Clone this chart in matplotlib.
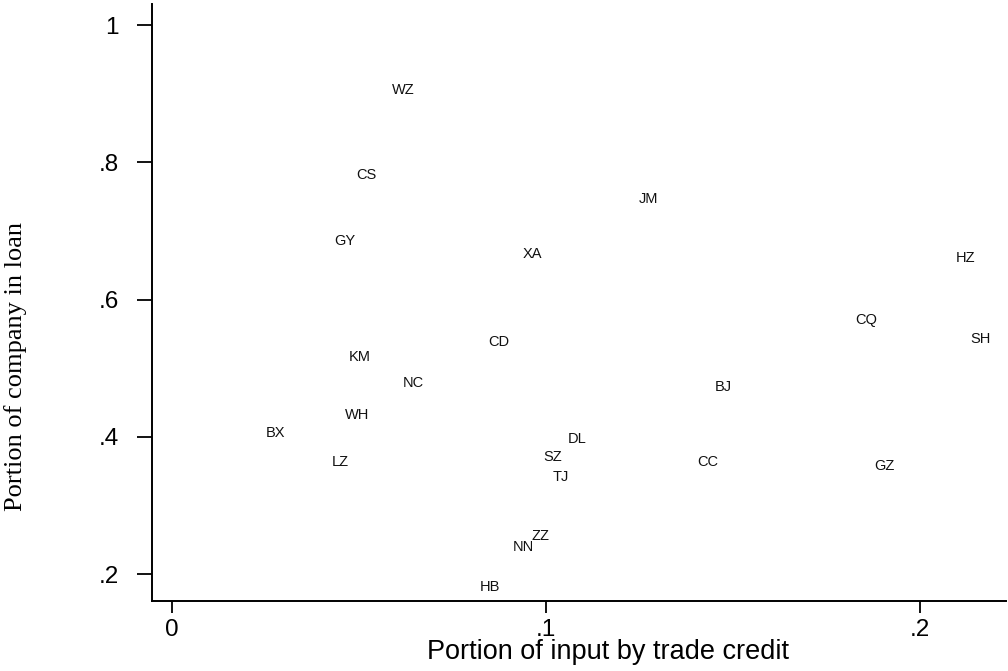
import matplotlib
matplotlib.use("Agg")
import matplotlib.pyplot as plt

# City codes with trade-credit share (x) and share of companies holding loans (y)
cities = ["WZ", "CS", "GY", "KM", "NC", "WH", "BX", "LZ", "JM", "XA", "CD", "BJ",
          "DL", "SZ", "TJ", "CC", "ZZ", "NN", "HB", "HZ", "CQ", "SH", "GZ"]
trade_credit = [0.0618, 0.0521, 0.0463, 0.0503, 0.0644, 0.0495, 0.0278, 0.0449,
                0.1275, 0.0965, 0.0874, 0.1473, 0.1083, 0.1019, 0.1040, 0.1433,
                0.0984, 0.0939, 0.0850, 0.2123, 0.1856, 0.2163, 0.1906]
loan_share = [0.908, 0.784, 0.687, 0.519, 0.480, 0.4345, 0.408, 0.365,
              0.749, 0.668, 0.541, 0.474, 0.3996, 0.372, 0.343, 0.366,
              0.258, 0.242, 0.184, 0.662, 0.573, 0.545, 0.359]

x_ticks = [0, 0.1, 0.2]
x_ticklabels = ["0", ".1", ".2"]
y_ticks = [0.2, 0.4, 0.6, 0.8, 1.0]
y_ticklabels = [".2", ".4", ".6", ".8", "1"]

sans = ["Liberation Sans", "DejaVu Sans"]
serif = ["Liberation Serif", "DejaVu Serif"]

fig = plt.figure(figsize=(10.08, 6.71), dpi=100)
ax = fig.add_axes([152 / 1008, 70 / 671, (1006 - 152) / 1008, 597 / 671])

for name, xv, yv in zip(cities, trade_credit, loan_share):
    ax.text(xv, yv, name, ha="center", va="center_baseline",
            fontsize=10.5, family=sans, color="#111111")

ax.set_xlim(-0.00535, 0.223)
ax.set_ylim(0.1607, 1.0306)

ax.set_xticks(x_ticks)
ax.set_xticklabels(x_ticklabels, family=sans, fontsize=17.5)
ax.set_yticks(y_ticks)
ax.set_yticklabels(y_ticklabels, family=sans, fontsize=17.5)

ax.tick_params(axis="x", length=8.6, width=1.3, pad=4)
ax.tick_params(axis="y", length=10.8, width=1.3, pad=13)

for side in ("top", "right"):
    ax.spines[side].set_visible(False)
for side in ("left", "bottom"):
    ax.spines[side].set_linewidth(1.4)

ax.set_xlabel("Portion of input by trade credit", family=sans, fontsize=19.5)
ax.xaxis.label.set_va("center")
ax.xaxis.set_label_coords(0.534, -0.0854)

ax.set_ylabel("Portion of company in loan", family=serif, fontsize=19)
ax.yaxis.label.set_va("center")
ax.yaxis.set_label_coords(-0.1604, 0.392)

fig.savefig("out.png", dpi=100, facecolor="white")
